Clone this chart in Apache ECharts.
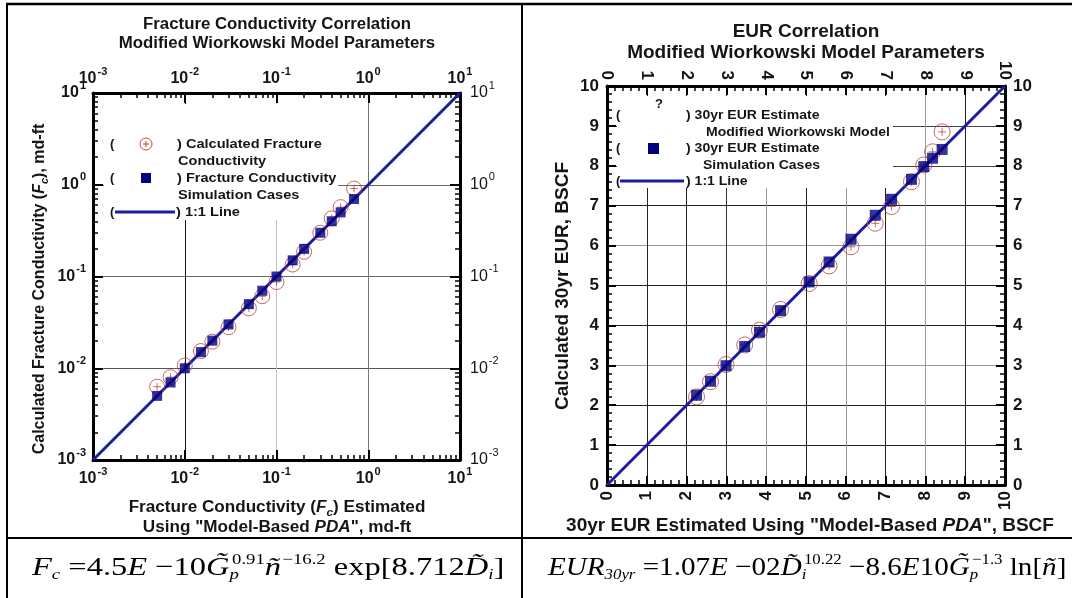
<!DOCTYPE html>
<html><head><meta charset="utf-8">
<script src="https://cdn.jsdelivr.net/npm/echarts@6/dist/echarts.min.js"></script>
<style>html,body{margin:0;padding:0;background:#fff}#c{width:1072px;height:598px}</style>
</head><body><div id="c"></div>
<script>
// ---------------- data ----------------
const fcAxisMin = 0.001, fcAxisMax = 10;
const fcMinorTicks = [0.002,0.003,0.004,0.005,0.006,0.007,0.008,0.009,
  0.02,0.03,0.04,0.05,0.06,0.07,0.08,0.09,
  0.2,0.3,0.4,0.5,0.6,0.7,0.8,0.9,
  2,3,4,5,6,7,8,9];
const fcEstimated  = [0.005,0.007,0.01,0.015,0.02,0.03,0.05,0.07,0.1,0.15,0.2,0.3,0.4,0.5,0.7];
const fcSimulated  = [0.005,0.007,0.01,0.015,0.02,0.03,0.05,0.07,0.1,0.15,0.2,0.3,0.4,0.5,0.7];
const fcCalculated = [0.0063,0.008,0.0107,0.0154,0.0195,0.028,0.045,0.061,0.087,0.135,0.186,0.30,0.43,0.57,0.91];
const fcOneToOne   = [0.001, 10];

const eurAxisMin = 0, eurAxisMax = 10;
const eurEstimated  = [2.25,2.6,2.99,3.46,3.83,4.36,5.08,5.58,6.13,6.74,7.15,7.65,7.96,8.18,8.42];
const eurSimulated  = [2.25,2.6,2.99,3.47,3.83,4.37,5.09,5.59,6.16,6.76,7.16,7.66,7.98,8.19,8.41];
const eurCalculated = [2.21,2.59,3.02,3.51,3.88,4.40,5.05,5.49,5.97,6.56,6.98,7.60,8.02,8.35,8.85];
const eurOneToOne   = [0, 10];

// ---------------- styles ----------------
const SANS = '"Liberation Sans", Arial, sans-serif';
const SERIF = '"Liberation Serif", "Times New Roman", serif';
const INK = '#151515';
const LINE_BLUE = '#1c1ca0';
const SQUARE_BLUE = '#00007f';
const CIRCLE_RED = '#b5493a';
const circlePlus = 'path://M10 0A10 10 0 1 1 -10 0A10 10 0 1 1 10 0ZM-5 0L5 0M0 -5L0 5';

function powLabel(v){ const e = Math.round(Math.log10(v)); return '{b|10}{s|' + e + '}'; }
function powRich(weight){
  return {
    b:{fontFamily:SANS,fontWeight:weight,fontSize:16,lineHeight:26,color:INK},
    s:{fontFamily:SANS,fontWeight:weight,fontSize:11,lineHeight:12,verticalAlign:'top',padding:[0,0,0,1],color:INK}
  };
}
const axisLineStyle = {onZero:false, lineStyle:{color:'#000', width:3}};
const majorTick = len => ({inside:true, length:len, lineStyle:{color:'#000', width:2}});
const minorAxisCommon = {axisLine:{show:false}, axisLabel:{show:false}, splitLine:{show:false}};

function fcMain(pos, labelWeight, labelMargin, splitColors){
  return {type:'log', logBase:10, position:pos, min:fcAxisMin, max:fcAxisMax, splitNumber:4,
    axisLine:axisLineStyle, axisTick:majorTick(10),
    axisLabel:{margin:labelMargin, formatter:powLabel, fontSize:16, fontWeight:labelWeight, fontFamily:SANS, color:INK,
      rich:powRich(labelWeight), showMinLabel:true, showMaxLabel:true},
    splitLine: splitColors ? {show:true, lineStyle:{color:splitColors, width:1}} : {show:false}};
}
function fcMinor(pos){
  return Object.assign({type:'log', logBase:10, position:pos, min:fcAxisMin, max:fcAxisMax,
    axisTick:{inside:true, length:5, customValues:fcMinorTicks, lineStyle:{color:'#000', width:1.5}}}, minorAxisCommon);
}
function eurAxis(pos, rotate, margin, splitColors){
  return {type:'value', position:pos, min:eurAxisMin, max:eurAxisMax, interval:1,
    axisLine:axisLineStyle, axisTick:majorTick(9),
    minorTick:{show:true, splitNumber:5, length:5, lineStyle:{color:'#000', width:1.5}},
    axisLabel:{rotate:rotate, margin:margin, fontFamily:SANS, fontWeight:'bold', fontSize:17, color:INK, showMinLabel:true, showMaxLabel:true},
    splitLine: splitColors ? {show:true, lineStyle:{color:splitColors, width:1}} : {show:false}};
}

const xAxes = [
  Object.assign(fcMain('bottom','bold',6,['#000','#111','#c4c4c4','#777','#000']),{gridIndex:0}),
  Object.assign(fcMinor('bottom'),{gridIndex:0}),
  Object.assign(fcMain('top','bold',1,null),{gridIndex:0}),
  Object.assign(fcMinor('top'),{gridIndex:0}),
  Object.assign(eurAxis('bottom',90,6,['#000','#222','#222','#333','#999','#222','#999','#222','#999','#222','#000']),{gridIndex:1}),
  Object.assign(eurAxis('top',90,6,null),{gridIndex:1})
];
const yAxes = [
  Object.assign(fcMain('left','bold',7,['#000','#555','#666','#666','#000']),{gridIndex:0}),
  Object.assign(fcMinor('left'),{gridIndex:0}),
  Object.assign(fcMain('right','normal',10,null),{gridIndex:0}),
  Object.assign(fcMinor('right'),{gridIndex:0}),
  Object.assign(eurAxis('left',0,8,['#000','#222','#222','#999','#222','#222','#999','#222','#444','#444','#000']),{gridIndex:1}),
  Object.assign(eurAxis('right',0,8,null),{gridIndex:1})
];

const series = [
  {type:'line', xAxisIndex:0, yAxisIndex:0, data:fcOneToOne.map(v=>[v,v]), symbol:'none', silent:true,
   lineStyle:{color:LINE_BLUE, width:3}, z:2},
  {type:'scatter', xAxisIndex:0, yAxisIndex:0, data:fcEstimated.map((x,i)=>[x,fcCalculated[i]]), symbol:circlePlus, symbolSize:15, silent:true,
   itemStyle:{color:'rgba(0,0,0,0)', borderColor:CIRCLE_RED, borderWidth:1}, z:3},
  {type:'scatter', xAxisIndex:0, yAxisIndex:0, data:fcEstimated.map((x,i)=>[x,fcSimulated[i]]), symbol:'rect', symbolSize:10, silent:true,
   itemStyle:{color:SQUARE_BLUE}, z:4},
  {type:'line', xAxisIndex:4, yAxisIndex:4, data:eurOneToOne.map(v=>[v,v]), symbol:'none', silent:true,
   lineStyle:{color:LINE_BLUE, width:3}, z:2},
  {type:'scatter', xAxisIndex:4, yAxisIndex:4, data:eurEstimated.map((x,i)=>[x,eurCalculated[i]]), symbol:circlePlus, symbolSize:16, silent:true,
   itemStyle:{color:'rgba(0,0,0,0)', borderColor:CIRCLE_RED, borderWidth:1}, z:3},
  {type:'scatter', xAxisIndex:4, yAxisIndex:4, data:eurEstimated.map((x,i)=>[x,eurSimulated[i]]), symbol:'rect', symbolSize:11, silent:true,
   itemStyle:{color:SQUARE_BLUE}, z:4}
];

// ---------------- graphic helpers ----------------
function T(x, y, text, o){
  o = o || {};
  const st = {text:text, fill:o.color||INK, fontFamily:o.family||SANS, fontSize:o.size||13,
    fontWeight:o.weight||'bold', fontStyle:o.fstyle||'normal',
    textAlign:o.align||'left', textVerticalAlign:o.valign||'middle', align:o.align||'left', verticalAlign:o.valign||'middle'};
  if (o.rich) st.rich = o.rich;
  return {type:'text', x:x, y:y, z:o.z||10, rotation:o.rot||0, scaleX:o.sx||1, silent:true, style:st};
}
function L(x1,y1,x2,y2,w,c,z){ return {type:'line', z:z||10, silent:true, shape:{x1,y1,x2,y2}, style:{stroke:c||'#000', lineWidth:w||2}}; }
function richSet(size, weight){
  return {
    t:{fontFamily:SANS,fontWeight:weight,fontSize:size,fill:INK,color:INK,lineHeight:size+6},
    it:{fontFamily:SANS,fontWeight:weight,fontStyle:'italic',fontSize:size,fill:INK,color:INK,lineHeight:size+6},
    sub:{fontFamily:SANS,fontWeight:weight,fontStyle:'italic',fontSize:Math.round(size*0.68),fill:INK,color:INK,verticalAlign:'bottom',padding:[0,0,1,0]}
  };
}
const fm = {
  r:{fontFamily:SERIF,fontSize:26,lineHeight:44,fill:'#000',color:'#000'},
  i:{fontFamily:SERIF,fontStyle:'italic',fontSize:26,lineHeight:44,fill:'#000',color:'#000'},
  sup:{fontFamily:SERIF,fontSize:15,verticalAlign:'top',padding:[7,0,0,1],fill:'#000',color:'#000'},
  isub:{fontFamily:SERIF,fontStyle:'italic',fontSize:15,verticalAlign:'bottom',padding:[0,0,7,0],fill:'#000',color:'#000'},
  isubz:{fontFamily:SERIF,fontStyle:'italic',fontSize:15,verticalAlign:'bottom',padding:[0,0,7,0],width:1,fill:'#000',color:'#000'}
};

const graphics = [
  // table frame
  L(6,4,1072,4,2.5), L(7,3,7,598,2), L(522,3,522,598,2), L(6,538,1072,538,2),
  // legend backgrounds (hide grid lines)
  {type:'rect', z:1, silent:true, shape:{x:104,y:104,width:234,height:116}, style:{fill:'#fff'}},
  {type:'rect', z:1, silent:true, shape:{x:617,y:96,width:276,height:92}, style:{fill:'#fff'}},
  // titles
  T(277,25,'Fracture Conductivity Correlation',{size:16,align:'center',sx:1.05}),
  T(277,44,'Modified Wiorkowski Model Parameters',{size:16,align:'center',sx:1.05}),
  T(806,32,'EUR Correlation',{size:19,align:'center'}),
  T(806,53,'Modified Wiorkowski Model Parameters',{size:19,align:'center'}),
  // left chart axis names
  T(40,289,'{t|Calculated Fracture Conductivity (}{it|F}{sub|c}{t|), md-ft}',{rot:Math.PI/2,align:'center',rich:richSet(16,'bold')}),
  T(277,508,'{t|Fracture Conductivity (}{it|F}{sub|c}{t|) Estimated}',{align:'center',sx:1.07,rich:richSet(16,'bold')}),
  T(277,528,'{t|Using "Model-Based }{it|PDA}{t|", md-ft}',{align:'center',sx:1.07,rich:richSet(16,'bold')}),
  // right chart axis names
  T(563,286,'Calculated 30yr EUR, BSCF',{size:19,rot:Math.PI/2,align:'center'}),
  T(810,526,'{t|30yr EUR Estimated Using "Model-Based }{it|PDA}{t|", BSCF}',{align:'center',rich:richSet(19,'bold')}),
  // left legend
  T(110,144,'(',{size:13}), T(177,144,') Calculated Fracture',{size:13,sx:1.12}), T(178,161,'Conductivity',{size:13,sx:1.12}),
  {type:'circle', z:10, silent:true, shape:{cx:146,cy:144,r:6}, style:{fill:'none',stroke:CIRCLE_RED,lineWidth:1}},
  L(143,144,149,144,1,CIRCLE_RED), L(146,141,146,147,1,CIRCLE_RED),
  T(110,178,'(',{size:13}), T(177,178,') Fracture Conductivity',{size:13,sx:1.12}), T(178,195,'Simulation Cases',{size:13,sx:1.12}),
  {type:'rect', z:10, silent:true, shape:{x:141,y:173,width:10,height:10}, style:{fill:SQUARE_BLUE}},
  T(110,212,'(',{size:13}), L(115,212,175,212,3,LINE_BLUE), T(176,212,') 1:1 Line',{size:13,sx:1.12}),
  // right legend
  T(655,104,'?',{size:13}),
  T(616,115,'(',{size:13}), T(686,115,') 30yr EUR Estimate',{size:13,sx:1.08}), T(706,132,'Modified Wiorkowski Model',{size:13,sx:1.08}),
  T(616,148,'(',{size:13}), T(686,148,') 30yr EUR Estimate',{size:13,sx:1.08}), T(703,165,'Simulation Cases',{size:13,sx:1.08}),
  {type:'rect', z:10, silent:true, shape:{x:648,y:143,width:11,height:11}, style:{fill:SQUARE_BLUE}},
  T(616,181,'(',{size:13}), L(620,181,684,181,3,LINE_BLUE), T(686,181,') 1:1 Line',{size:13,sx:1.08}),
  // formulas
  T(32,568,'{i|F}{isub|c}{r| =4.5}{i|E}{r| −10}{i|G\u0303}{isubz|p}{sup|0.91}{i|ñ}{sup|−16.2}{r| exp[8.712}{i|D\u0303}{isub|i}{r|]}',{rich:fm,sx:1.25}),
  T(548,568,'{i|EUR}{isub|30yr}{r| =1.07}{i|E}{r| −02}{i|D\u0303}{isubz|i}{sup|10.22}{r| −8.6}{i|E}{r|10}{i|G\u0303}{isubz|p}{sup|−1.3}{r| ln[}{i|ñ}{r|]}',{rich:fm,sx:1.12})
];

const option = {
  animation:false,
  backgroundColor:'#fff',
  grid:[
    {left:93, top:93, width:367, height:367},
    {left:607, top:86, width:398, height:399}
  ],
  xAxis:xAxes,
  yAxis:yAxes,
  series:series,
  graphic:{elements:graphics}
};
const chart = echarts.init(document.getElementById('c'), null, {renderer:'canvas'});
chart.setOption(option);
</script></body></html>
